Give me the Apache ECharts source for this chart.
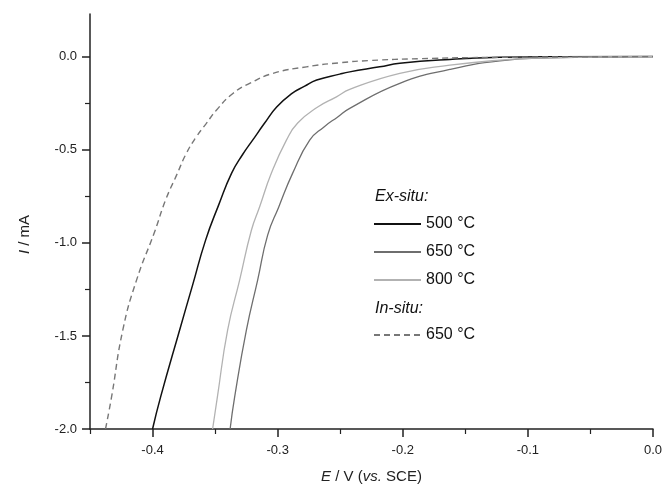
<!DOCTYPE html>
<html>
<head>
<meta charset="utf-8">
<script src="https://cdn.jsdelivr.net/npm/echarts@6/dist/echarts.min.js"></script>
<style>
html,body{margin:0;padding:0;background:#fff;}
#c{width:667px;height:493px;}
</style>
</head>
<body>
<div id="c"></div>
<script>
// ---- data: [E (V vs. SCE), I (mA)] ----
var exsitu500 = [[-0.400,-2.0],[-0.3936,-1.829],[-0.3784,-1.469],[-0.3680,-1.227],[-0.3576,-0.985],[-0.3472,-0.797],[-0.3368,-0.625],[-0.3280,-0.525],[-0.3200,-0.448],[-0.3104,-0.356],[-0.3008,-0.270],[-0.2888,-0.198],[-0.2784,-0.158],[-0.2688,-0.125],[-0.2504,-0.093],[-0.2424,-0.081],[-0.2184,-0.054],[-0.2024,-0.035],[-0.1624,-0.014],[-0.1224,-0.003],[-0.074,0.0],[0.0,0.001]];
var exsitu650 = [[-0.338,-2.0],[-0.3344,-1.829],[-0.3250,-1.469],[-0.3160,-1.200],[-0.3080,-0.958],[-0.2992,-0.808],[-0.2880,-0.625],[-0.2744,-0.448],[-0.2632,-0.378],[-0.2520,-0.323],[-0.2424,-0.277],[-0.2024,-0.143],[-0.1624,-0.068],[-0.1224,-0.022],[-0.0824,-0.006],[0.0,0.001]];
var exsitu800 = [[-0.352,-2.0],[-0.3482,-1.829],[-0.3400,-1.469],[-0.3304,-1.200],[-0.3210,-0.932],[-0.3144,-0.806],[-0.3050,-0.625],[-0.2930,-0.448],[-0.2840,-0.356],[-0.2680,-0.270],[-0.2530,-0.215],[-0.2424,-0.175],[-0.2024,-0.089],[-0.1624,-0.045],[-0.1224,-0.018],[-0.0824,-0.004],[0.0,0.001]];
var insitu650 = [[-0.4376,-2.0],[-0.4328,-1.829],[-0.4238,-1.469],[-0.4128,-1.200],[-0.3984,-0.941],[-0.3896,-0.770],[-0.3808,-0.636],[-0.3730,-0.519],[-0.3650,-0.430],[-0.3570,-0.358],[-0.3490,-0.287],[-0.3358,-0.197],[-0.3224,-0.143],[-0.3038,-0.089],[-0.2770,-0.054],[-0.2504,-0.032],[-0.2264,-0.020],[-0.1864,-0.010],[-0.1224,-0.003],[0.0,0.001]];

var xMajorTicks = [-0.4,-0.3,-0.2,-0.1,0.0];
var xMinorTicks = [-0.45,-0.35,-0.25,-0.15,-0.05];
var yMajorTicks = [-2.0,-1.5,-1.0,-0.5,0.0];
var yMinorTicks = [-1.75,-1.25,-0.75,-0.25];
var xRange = [-0.45, 0];
var yRange = [-2.0, 0.23];

var FONT = 'Liberation Sans, Arial, sans-serif';
var AX = '#222';

var chart = echarts.init(document.getElementById('c'), null, {renderer:'canvas'});
var fmt = function(v){ return (Math.abs(v) < 1e-9 ? 0 : v).toFixed(1); };

var lineSeries = function(name, data, color, width, type){
  return {name: name, type: 'line', data: data, showSymbol: false, symbol: 'none',
    smooth: 0.5,
    lineStyle: {color: color, width: width, type: type || 'solid'}, itemStyle: {color: color}};
};

chart.setOption({
  backgroundColor: '#fff',
  animation: false,
  grid: {left: 90, right: 14, top: 14, bottom: 64, containLabel: false},
  xAxis: [{
    type: 'value', min: xRange[0], max: xRange[1], position: 'bottom',
    name: '{i|E} / V ({i|vs.} SCE)', nameLocation: 'middle', nameGap: 40,
    nameTextStyle: {fontFamily: FONT, fontSize: 15, color: AX,
      rich: {i: {fontStyle: 'italic', fontFamily: FONT, fontSize: 15, color: AX}}},
    axisLine: {show: true, onZero: false, lineStyle: {color: AX, width: 1.5}},
    axisTick: {show: true, customValues: xMajorTicks, length: 8, inside: false, lineStyle: {color: AX, width: 1.5}},
    axisLabel: {customValues: xMajorTicks, formatter: fmt, margin: 15, fontFamily: FONT, fontSize: 13, color: AX},
    splitLine: {show: false}
  }, {
    type: 'value', min: xRange[0], max: xRange[1], position: 'bottom', gridIndex: 0,
    axisLine: {show: false, onZero: false},
    axisTick: {show: true, customValues: xMinorTicks, length: 5, lineStyle: {color: AX, width: 1.2}},
    axisLabel: {show: false},
    splitLine: {show: false}
  }],
  yAxis: [{
    type: 'value', min: yRange[0], max: yRange[1], position: 'left',
    name: '{i|I} / mA', nameLocation: 'middle', nameGap: 58, nameRotate: 90,
    nameTextStyle: {fontFamily: FONT, fontSize: 15, color: AX, padding: [0, 26, 0, 0],
      rich: {i: {fontStyle: 'italic', fontFamily: FONT, fontSize: 15, color: AX}}},
    axisLine: {show: true, onZero: false, lineStyle: {color: AX, width: 1.5}},
    axisTick: {show: true, customValues: yMajorTicks, length: 8, lineStyle: {color: AX, width: 1.5}},
    axisLabel: {customValues: yMajorTicks, formatter: fmt, margin: 13, fontFamily: FONT, fontSize: 13, color: AX},
    splitLine: {show: false}
  }, {
    type: 'value', min: yRange[0], max: yRange[1], position: 'left', gridIndex: 0,
    axisLine: {show: false, onZero: false},
    axisTick: {show: true, customValues: yMinorTicks, length: 5, lineStyle: {color: AX, width: 1.2}},
    axisLabel: {show: false},
    splitLine: {show: false}
  }],
  legend: [{
    data: ['500 °C', '650 °C', '800 °C'],
    orient: 'vertical', left: 373, top: 216, padding: 0,
    itemWidth: 47, itemHeight: 14, itemGap: 12,
    itemStyle: {opacity: 0},
    textStyle: {fontFamily: FONT, fontSize: 16, color: '#111'},
    selectedMode: false
  }, {
    data: ['In-situ 650 °C'],
    orient: 'vertical', left: 373, top: 327, padding: 0,
    itemWidth: 47, itemHeight: 14,
    itemStyle: {opacity: 0},
    formatter: function(){ return '650 °C'; },
    textStyle: {fontFamily: FONT, fontSize: 16, color: '#111'},
    selectedMode: false
  }],
  graphic: [
    {type: 'text', left: 375, top: 189, style: {text: 'Ex-situ:', font: 'italic 16px ' + FONT, fill: '#111'}},
    {type: 'text', left: 375, top: 301, style: {text: 'In-situ:', font: 'italic 16px ' + FONT, fill: '#111'}}
  ],
  series: [
    lineSeries('500 °C', exsitu500, '#111', 1.5),
    lineSeries('650 °C', exsitu650, '#6e6e6e', 1.3),
    lineSeries('800 °C', exsitu800, '#b2b2b2', 1.3),
    lineSeries('In-situ 650 °C', insitu650, '#777', 1.4, [6, 4])
  ]
});
</script>
</body>
</html>
